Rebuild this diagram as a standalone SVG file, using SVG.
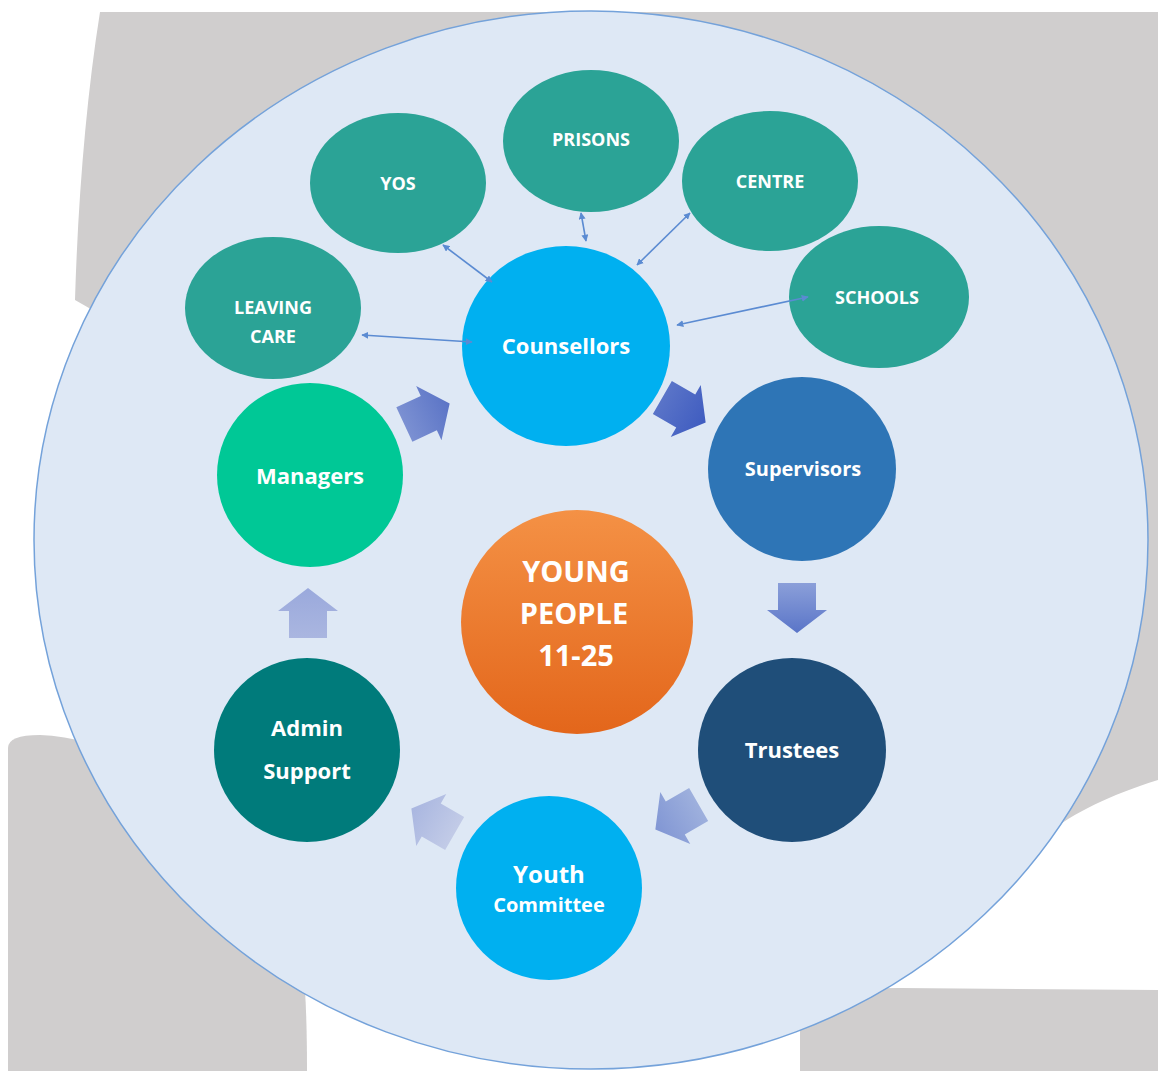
<svg xmlns="http://www.w3.org/2000/svg" width="1158" height="1071" viewBox="0 0 1158 1071">
<defs>
<style>
.bg{fill:#d0cece}
.lbl{font-family:"Open Sans","Liberation Sans",sans-serif;font-weight:bold;fill:#ffffff;text-anchor:middle}
.out{fill:#2ba396}
.conn{stroke:#5b8bd2;stroke-width:1.6;fill:none;marker-start:url(#ah);marker-end:url(#ah)}
</style>
<marker id="ah" viewBox="0 0 10 10" refX="9" refY="5" markerWidth="7" markerHeight="7" orient="auto-start-reverse" markerUnits="userSpaceOnUse"><path d="M0,0 L10,5 L0,10 Z" fill="#5b8bd2"/></marker>
<linearGradient id="gOrange" x1="0" y1="0" x2="0" y2="1"><stop offset="0" stop-color="#f49145"/><stop offset="1" stop-color="#e3661b"/></linearGradient>
<linearGradient id="gA1" x1="0" y1="0" x2="1" y2="0"><stop offset="0" stop-color="#7b90d2"/><stop offset="1" stop-color="#5b74c6"/></linearGradient>
<linearGradient id="gA2" x1="0" y1="0" x2="1" y2="0"><stop offset="0" stop-color="#5a74c8"/><stop offset="1" stop-color="#3f5cc0"/></linearGradient>
<linearGradient id="gA3" x1="0" y1="0" x2="1" y2="0"><stop offset="0" stop-color="#8b9fd9"/><stop offset="1" stop-color="#5a75c8"/></linearGradient>
<linearGradient id="gA4" x1="0" y1="0" x2="1" y2="0"><stop offset="0" stop-color="#9eb0dd"/><stop offset="1" stop-color="#8196d4"/></linearGradient>
<linearGradient id="gA5" x1="0" y1="0" x2="1" y2="0"><stop offset="0" stop-color="#c2cbe7"/><stop offset="1" stop-color="#a9b6e0"/></linearGradient>
<linearGradient id="gA6" x1="0" y1="0" x2="1" y2="0"><stop offset="0" stop-color="#aab6e0"/><stop offset="1" stop-color="#9aa9dc"/></linearGradient>
<path id="blk" d="M-25,-19 L2,-19 L2,-30 L25,0 L2,30 L2,19 L-25,19 Z"/>
</defs>
<rect width="1158" height="1071" fill="#ffffff"/>
<g id="background">
<path class="bg" d="M100,12 L1158,12 L1158,780 C1110,795 1075,812 1045,835 L600,600 L75,300 C78,200 86,100 100,12 Z"/>
<path class="bg" d="M8,748 Q8,735 40,735 C120,738 245,800 292,900 C304,945 307,1000 307,1071 L8,1071 Z"/>
<path class="bg" d="M800,1071 L800,1000 Q802,988 900,988 L1158,990 L1158,1071 Z"/>
<ellipse cx="591" cy="540" rx="557" ry="529" fill="#dee8f5" stroke="#74a2da" stroke-width="1.5"/>
</g>
<g id="prisons"><ellipse class="out" cx="591" cy="141" rx="88" ry="71"/><text class="lbl" x="591" y="146" font-size="18">PRISONS</text></g>
<g id="yos"><ellipse class="out" cx="398" cy="183" rx="88" ry="70"/><text class="lbl" x="398" y="190" font-size="18">YOS</text></g>
<g id="centre"><ellipse class="out" cx="770" cy="181" rx="88" ry="70"/><text class="lbl" x="770" y="188" font-size="18">CENTRE</text></g>
<g id="schools"><ellipse class="out" cx="879" cy="297" rx="90" ry="71"/><text class="lbl" x="877" y="304" font-size="18">SCHOOLS</text></g>
<g id="leaving-care"><ellipse class="out" cx="273" cy="308" rx="88" ry="71"/><text class="lbl" x="273" y="314" font-size="18">LEAVING</text><text class="lbl" x="273" y="343" font-size="18">CARE</text></g>
<g id="counsellors"><ellipse cx="566" cy="346" rx="104" ry="100" fill="#00b0f0"/><text class="lbl" x="566" y="354" font-size="22">Counsellors</text></g>
<g id="managers"><ellipse cx="310" cy="475" rx="93" ry="92" fill="#00c896"/><text class="lbl" x="310" y="484" font-size="22">Managers</text></g>
<g id="supervisors"><ellipse cx="802" cy="469" rx="94" ry="92" fill="#2e75b6"/><text class="lbl" x="803" y="476" font-size="20">Supervisors</text></g>
<g id="young-people"><ellipse cx="577" cy="622" rx="116" ry="112" fill="url(#gOrange)"/><text class="lbl" x="576" y="582" font-size="29">YOUNG</text><text class="lbl" x="574" y="624" font-size="29">PEOPLE</text><text class="lbl" x="576" y="666" font-size="29">11-25</text></g>
<g id="trustees"><ellipse cx="792" cy="750" rx="94" ry="92" fill="#1f4e79"/><text class="lbl" x="792" y="758" font-size="22">Trustees</text></g>
<g id="admin-support"><ellipse cx="307" cy="750" rx="93" ry="92" fill="#007b7b"/><text class="lbl" x="307" y="736" font-size="22">Admin</text><text class="lbl" x="307" y="779" font-size="22">Support</text></g>
<g id="youth-committee"><ellipse cx="549" cy="888" rx="93" ry="92" fill="#00b0f0"/><text class="lbl" x="549" y="883" font-size="24">Youth</text><text class="lbl" x="549" y="912" font-size="20">Committee</text></g>
<g id="connectors">
<line class="conn" x1="581" y1="213" x2="586" y2="241"/>
<line class="conn" x1="443" y1="245" x2="492" y2="282"/>
<line class="conn" x1="690" y1="213" x2="637" y2="265"/>
<line class="conn" x1="808" y1="297" x2="677" y2="325"/>
<line class="conn" x1="472" y1="342" x2="362" y2="335"/>
<use href="#blk" fill="url(#gA1)" transform="translate(427,414) rotate(-25)"/>
<use href="#blk" fill="url(#gA2)" transform="translate(684,410) rotate(30)"/>
<use href="#blk" fill="url(#gA3)" transform="translate(797,608) rotate(90)"/>
<use href="#blk" fill="url(#gA4)" transform="translate(677,817) rotate(150)"/>
<use href="#blk" fill="url(#gA5)" transform="translate(433,821) rotate(210)"/>
<use href="#blk" fill="url(#gA6)" transform="translate(308,613) rotate(-90)"/>
</g>
</svg>
